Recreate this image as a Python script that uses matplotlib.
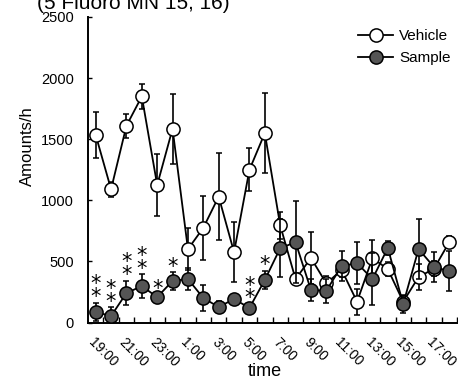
import matplotlib

matplotlib.use("Agg")
import matplotlib.pyplot as plt
import numpy as np

plt.rcParams["font.family"] = ["Liberation Sans", "DejaVu Sans"]

# hourly bins, 19:00 through 18:00
hours = [f"{(19 + i) % 24}:00" for i in range(24)]
tick_labels = hours[::2]

vehicle = [1535, 1090, 1610, 1850, 1125, 1585, 600, 775, 1030, 575, 1250, 1550,
           795, 355, 528, 320, 430, 170, 527, 437, 170, 372, 440, 658]
vehicle_err = [185, 60, 100, 100, 250, 285, 170, 260, 355, 245, 175, 325,
               110, 50, 210, 60, 60, 107, 150, 60, 50, 105, 60, 50]
sample = [86, 53, 241, 298, 208, 340, 356, 200, 127, 192, 119, 348,
          608, 657, 266, 260, 462, 486, 356, 610, 151, 601, 454, 421]
sample_err = [75, 70, 98, 95, 20, 70, 90, 105, 50, 25, 30, 75,
              236, 335, 90, 100, 120, 170, 210, 60, 70, 245, 120, 165]
# number of asterisks over each Sample point
stars = [2, 2, 2, 2, 1, 1, 0, 0, 0, 0, 2, 1,
         0, 0, 0, 0, 0, 0, 0, 0, 0, 0, 0, 0]

x = np.arange(len(hours))

fig = plt.figure(figsize=(4.58, 3.8), dpi=100)
ax = fig.add_axes([88 / 458, 57.5 / 380, 369 / 458, 305.5 / 380])

ax.errorbar(x, vehicle, yerr=vehicle_err, color="black", lw=1.3, elinewidth=1.2,
            capsize=2.5, capthick=1.2, marker="o", ms=9.5, mfc="white",
            mec="black", mew=1.1, label="Vehicle", zorder=3)
ax.errorbar(x, sample, yerr=sample_err, color="black", lw=1.3, elinewidth=1.2,
            capsize=2.5, capthick=1.2, marker="o", ms=9.5, mfc="#555555",
            mec="black", mew=1.1, label="Sample", zorder=4)

# significance marks, stacked above the error bar
for i, n in enumerate(stars):
    if n:
        ax.annotate("\n".join(["*"] * n), (x[i], sample[i] + sample_err[i]),
                    xytext=(0, -3), textcoords="offset points",
                    ha="center", va="bottom", fontsize=15, linespacing=0.55,
                    family="DejaVu Sans")

ax.set_xlim(-0.5, 23.5)
ax.set_ylim(0, 2500)
ax.set_yticks(range(0, 2501, 500))
ax.tick_params(axis="y", direction="in", length=3, width=1, pad=10, labelsize=10.5)

ax.set_xticks(x[::2])
ax.set_xticklabels(tick_labels, rotation=-45, ha="left", va="top",
                   rotation_mode="anchor", fontsize=10)
ax.tick_params(axis="x", which="major", length=0, pad=9)
ax.set_xticks(np.arange(0.5, 24, 1), minor=True)
ax.tick_params(axis="x", which="minor", direction="in", length=4, width=1)

for s in ("top", "right"):
    ax.spines[s].set_visible(False)
for s in ("left", "bottom"):
    ax.spines[s].set_linewidth(1.4)

fig.text(27 / 458, 1 - 146 / 380, "Amounts/h", fontsize=12, rotation=90,
         ha="center", va="center")
fig.text(265 / 458, 1 - 371 / 380, "time", fontsize=13, ha="center", va="center")

handles, labels = ax.get_legend_handles_labels()
handles = [h[0] for h in handles]
fig.legend(handles, labels, loc="upper left", bbox_to_anchor=(358 / 458, 1 - 29 / 380),
           frameon=False, fontsize=11, handlelength=2.3, handletextpad=0.4,
           labelspacing=0.55, borderpad=0, borderaxespad=0)

fig.text(37 / 458, 1 - 9 / 380, "(5 Fluoro MN 15, 16)", fontsize=15,
         ha="left", va="baseline")

fig.savefig("out.png", dpi=100)
